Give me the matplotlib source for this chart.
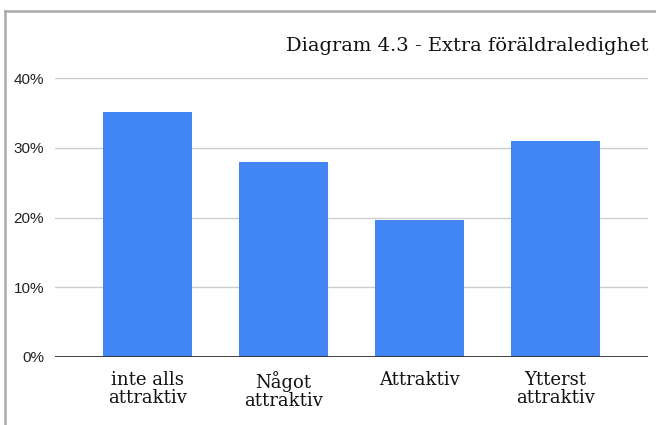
import matplotlib
matplotlib.use('Agg')
import matplotlib.pyplot as plt
from matplotlib.lines import Line2D
from matplotlib.ticker import FuncFormatter

# answer shares per category (percent)
categories = ['inte alls\nattraktiv', 'Något\nattraktiv', 'Attraktiv', 'Ytterst\nattraktiv']
shares = [35.1, 28.0, 19.6, 30.9]
yticks = [0, 10, 20, 30, 40]
title = 'Diagram 4.3 - Extra föräldraledighet'

fig = plt.figure(figsize=(6.56, 4.25), dpi=100)
ax = fig.add_axes([55 / 656, 1 - 357 / 425, (648 - 55) / 656, (357 - 78) / 425])

xpos = list(range(len(categories)))
ax.bar(xpos, shares, width=0.65, color='#4285F4', zorder=3)

ax.set_xlim(-0.68, len(categories) - 1 + 0.68)
ax.set_ylim(0, 40)
ax.set_yticks(yticks)
ax.yaxis.set_major_formatter(FuncFormatter(lambda v, p: '%d%%' % v))
ax.grid(axis='y', color='#cccccc', linewidth=1, zorder=0)
ax.axhline(0, color='#333333', linewidth=1.3, zorder=4)

for s in ax.spines.values():
    s.set_visible(False)
ax.tick_params(axis='both', length=0)
ax.tick_params(axis='y', pad=8, labelsize=11)
for lab in ax.get_yticklabels():
    lab.set_family('Liberation Sans')
    lab.set_color('#222222')

ax.set_xticks(xpos)
ax.set_xticklabels(categories, family='DejaVu Serif', fontsize=13,
                   linespacing=1.0, color='#111111')
ax.tick_params(axis='x', pad=10)

fig.text(648 / 656, 1 - 46 / 425, title, family='DejaVu Serif', fontsize=14,
         ha='right', va='center', color='#111111')

# grey frame on the top and left edges
fig.add_artist(Line2D([5 / 656, 5 / 656], [0, 1 - 11 / 425], transform=fig.transFigure,
                      color='#aaaaaa', linewidth=1.8))
fig.add_artist(Line2D([5 / 656, 1], [1 - 11 / 425, 1 - 11 / 425], transform=fig.transFigure,
                      color='#aaaaaa', linewidth=1.8))

fig.savefig('out.png', dpi=100)
